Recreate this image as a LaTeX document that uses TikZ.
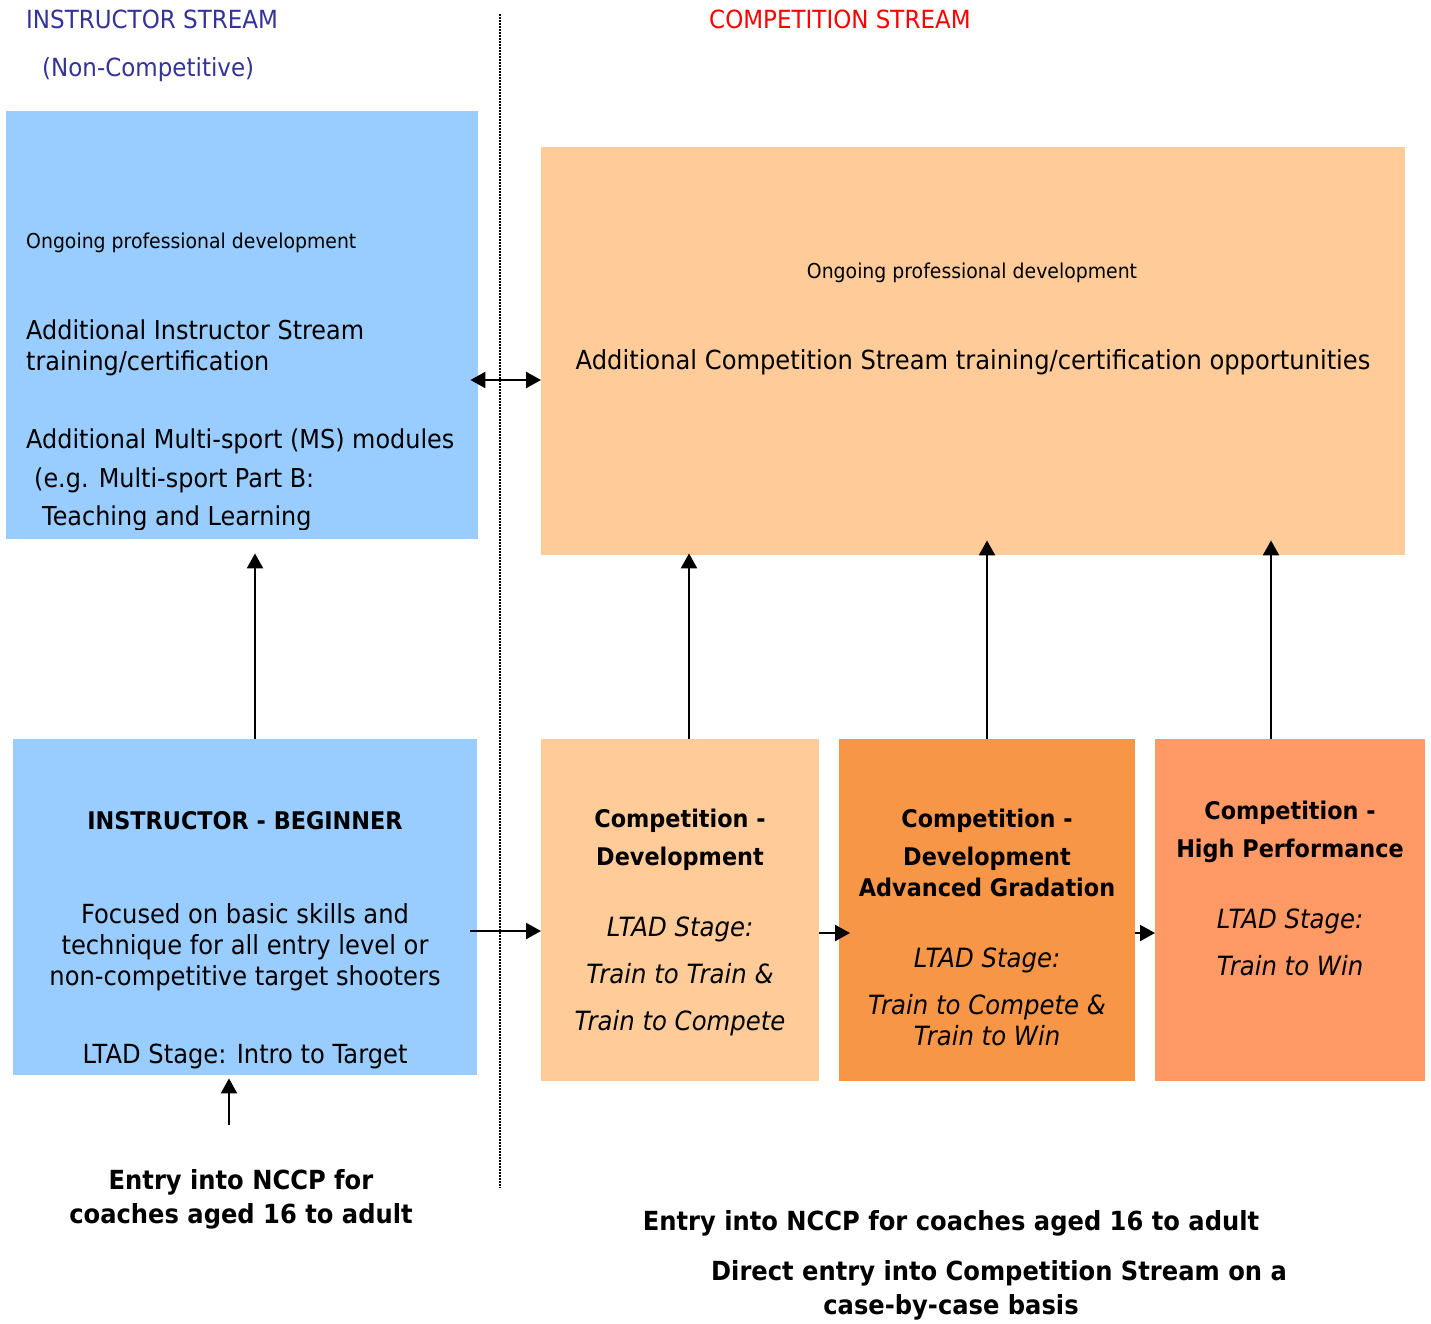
\documentclass[tikz,border=0pt]{standalone}
\usepackage{fontspec}
\setmainfont{DejaVu Sans}[FakeStretch=0.92]
\usetikzlibrary{arrows.meta}
\definecolor{boxblue}{HTML}{99CCFF}
\definecolor{boxpeach}{HTML}{FFCC99}
\definecolor{boxorange}{HTML}{F79646}
\definecolor{boxsalmon}{HTML}{FF9966}
\definecolor{titleblue}{HTML}{333399}
\definecolor{titlered}{HTML}{FF0000}
\begin{document}
\begin{tikzpicture}[x=1pt,y=-1pt,
  panel/.style={fill=#1, draw=none, inner sep=0pt, anchor=north west},
  ctxt/.style={inner sep=0pt, anchor=mid, yshift=-5pt, font=\fontsize{26.3}{31}\selectfont},
  ltxt/.style={inner sep=0pt, anchor=mid west, yshift=-5pt, font=\fontsize{26}{31}\selectfont},
  small/.style={font=\fontsize{20.5}{25}\selectfont},
  bld/.style={font=\fontsize{24.3}{29}\selectfont\bfseries},
  itl/.style={font=\fontsize{26.5}{31}\selectfont\itshape},
  entry/.style={font=\fontsize{26.3}{31}\selectfont\bfseries},
  ttl/.style={inner sep=0pt, anchor=mid west, yshift=-6pt, font=\fontsize{25}{30}\selectfont},
  arr/.style={-{Triangle[length=15pt,width=16pt]}, line width=2.3pt},
  dblarr/.style={{Triangle[length=15pt,width=16pt]}-{Triangle[length=15pt,width=16pt]}, line width=2.3pt}]
\useasboundingbox (0,0) rectangle (1431,1323);

% titles
\node[ttl, text=titleblue] (t1) at (26,20) {INSTRUCTOR STREAM};
\node[ttl, text=titleblue] (t2) at (42,68) {(Non-Competitive)};
\node[ttl, text=titlered] (t3) at (709,20) {COMPETITION STREAM};

% dotted divider
\coordinate (dtop) at (500,14);
\coordinate (dbot) at (500,1188);
\draw[line width=1.5pt, dash pattern=on 1.5pt off 1.5pt] (dtop) -- (dbot);

% panels
\node[panel=boxblue, minimum width=472pt, minimum height=428pt] (A) at (6,111) {};
\node[panel=boxpeach, minimum width=864pt, minimum height=408pt] (B) at (541,147) {};
\node[panel=boxblue, minimum width=464pt, minimum height=336pt] (C) at (13,739) {};
\node[panel=boxpeach, minimum width=278pt, minimum height=342pt] (D) at (541,739) {};
\node[panel=boxorange, minimum width=296pt, minimum height=342pt] (E) at (839,739) {};
\node[panel=boxsalmon, minimum width=270pt, minimum height=342pt] (F) at (1155,739) {};

% panel A text
\begin{scope}
\clip (6,111) rectangle (478,529);
\node[ltxt, small] (a1) at (26,241) {Ongoing professional development};
\node[ltxt] (a2) at (26,332) {Additional Instructor Stream};
\node[ltxt] (a3) at (26,363) {training/certification};
\node[ltxt] (a4) at (26,441) {Additional Multi-sport (MS) modules};
\node[ltxt] (a5) at (34,480) {(e.g. Multi-sport Part B:};
\node[ltxt] (a6) at (42,518) {Teaching and Learning};
\end{scope}

% panel B text
\node[ctxt, small] (b1) at (972,271) {Ongoing professional development};
\node[ctxt] (b2) at (973,362) {Additional Competition Stream training/certification opportunities};

% panel C text
\begin{scope}
\clip (13,739) rectangle (477,1068);
\node[ctxt, bld] (c1) at (245,822) {INSTRUCTOR - BEGINNER};
\node[ctxt] (c2) at (245,916) {Focused on basic skills and};
\node[ctxt] (c3) at (245,947) {technique for all entry level or};
\node[ctxt] (c4) at (245,978) {non-competitive target shooters};
\node[ctxt] (c5) at (245,1056) {LTAD Stage: Intro to Target};
\end{scope}

% panel D text
\node[ctxt, bld] (d1) at (680,820) {Competition -};
\node[ctxt, bld] (d2) at (680,858) {Development};
\node[ctxt, itl] (d3) at (680,929) {LTAD Stage:};
\node[ctxt, itl] (d4) at (680,976) {Train to Train \&};
\node[ctxt, itl] (d5) at (680,1023) {Train to Compete};

% panel E text
\node[ctxt, bld] (e1) at (987,820) {Competition -};
\node[ctxt, bld] (e2) at (987,858) {Development};
\node[ctxt, bld] (e3) at (987,889) {Advanced Gradation};
\node[ctxt, itl] (e4) at (987,960) {LTAD Stage:};
\node[ctxt, itl] (e5) at (987,1007) {Train to Compete \&};
\node[ctxt, itl] (e6) at (987,1038) {Train to Win};

% panel F text
\node[ctxt, bld] (f1) at (1290,812) {Competition -};
\node[ctxt, bld] (f2) at (1290,850) {High Performance};
\node[ctxt, itl] (f3) at (1290,921) {LTAD Stage:};
\node[ctxt, itl] (f4) at (1290,968) {Train to Win};

% bottom texts
\node[ctxt, entry] (g1) at (241,1182) {Entry into NCCP for};
\node[ctxt, entry] (g2) at (241,1216) {coaches aged 16 to adult};
\node[ctxt, entry] (h1) at (951,1223) {Entry into NCCP for coaches aged 16 to adult};
\node[ctxt, entry] (h2) at (999,1273) {Direct entry into Competition Stream on a};
\node[ctxt, entry] (h3) at (951,1307) {case-by-case basis};

% helper coordinates
\coordinate (colA) at (255,0);
\coordinate (colD) at (689,0);
\coordinate (colE) at (987,0);
\coordinate (colF) at (1271,0);
\coordinate (rowAB) at (0,380);
\coordinate (rowCD) at (0,931);
\coordinate (rowDE) at (0,933);
\coordinate (entryL) at (229,1125);

% connectors
\draw[arr, shorten >=14pt] (C.north -| colA) -- (A.south -| colA);
\draw[arr, shorten >=-2pt] (D.north -| colD) -- (B.south -| colD);
\draw[arr, shorten >=-15pt] (E.north -| colE) -- (B.south -| colE);
\draw[arr, shorten >=-15pt] (F.north -| colF) -- (B.south -| colF);
\draw[dblarr, shorten <=-8pt] (A.east |- rowAB) -- (B.west |- rowAB);
\draw[arr, shorten <=-7pt] (C.east |- rowCD) -- (D.west |- rowCD);
\draw[arr, shorten >=-11pt] (D.east |- rowDE) -- (E.west |- rowDE);
\draw[arr] (E.east |- rowDE) -- (F.west |- rowDE);
\draw[arr, shorten >=3pt] (entryL) -- (C.south -| entryL);
\end{tikzpicture}
\end{document}
